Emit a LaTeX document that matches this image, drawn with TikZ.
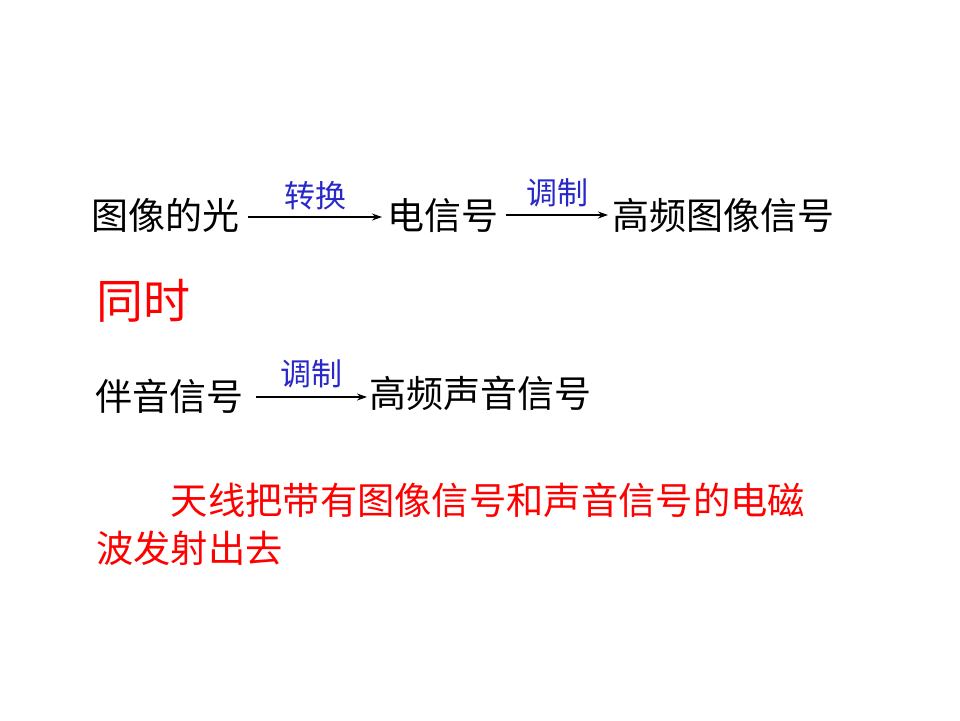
\documentclass[tikz,border=0pt]{standalone}
\usepackage{fontspec}
\newfontfamily\cjk{Noto Sans CJK SC}
\usetikzlibrary{arrows.meta,positioning}
\definecolor{clan}{HTML}{2828C8}
\definecolor{chong}{HTML}{FF0000}
\tikzset{
  wenzi/.style={font=\cjk\fontsize{37}{44}\selectfont,inner sep=0pt,anchor=west},
  hongzi/.style={wenzi,text=chong},
  duan/.style={hongzi,font=\cjk\fontsize{37.3}{48}\selectfont,align=left},
  biaoqian/.style={font=\cjk\fontsize{31}{36}\selectfont,text=clan,inner sep=0pt},
  jiantou/.style={-{Stealth[length=10pt,width=7pt]},draw=black,line width=1.7pt},
  jiantoux/.style={jiantou,line width=1.1pt},
}

\begin{document}
\begin{tikzpicture}[x=1pt,y=-1pt]
\useasboundingbox (0,0) rectangle (960,720);

% ---------------- fila 1: imagen ----------------
\node[wenzi] (guang) at (91,215) {图像的光};
\node[wenzi] (dian)  at (387,215) {电信号};
\node[wenzi] (gaotu) at (612,215) {高频图像信号};

\draw[jiantou] ([xshift=9pt,yshift=-2pt]guang.east) --
  node[biaoqian,above=6pt]{转换} ([xshift=-5pt,yshift=-2pt]dian.west);
\draw[jiantou] ([xshift=8pt]dian.east) --
  node[biaoqian,above=7pt]{调制} ([xshift=-4pt]gaotu.west);

% ---------------- al mismo tiempo ----------------
\node[hongzi,font=\cjk\fontsize{47}{54}\selectfont] (tongshi) at (96,301) {同时};

% ---------------- fila 2: sonido ----------------
\node[wenzi] (banyin) at (95,396) {伴音信号};
\node[wenzi] (gaosheng) at (369,393) {高频声音信号};

\draw[jiantoux] ([xshift=13pt,yshift=-1pt]banyin.east) --
  node[biaoqian,above=9pt]{调制} ([xshift=-2pt,yshift=-4pt]gaosheng.west);

% ---------------- antena ----------------
\node[duan] (tianxian) at (96,524)
  {\hspace*{2em}天线把带有图像信号和声音信号的电磁\\波发射出去};

\end{tikzpicture}
\end{document}
